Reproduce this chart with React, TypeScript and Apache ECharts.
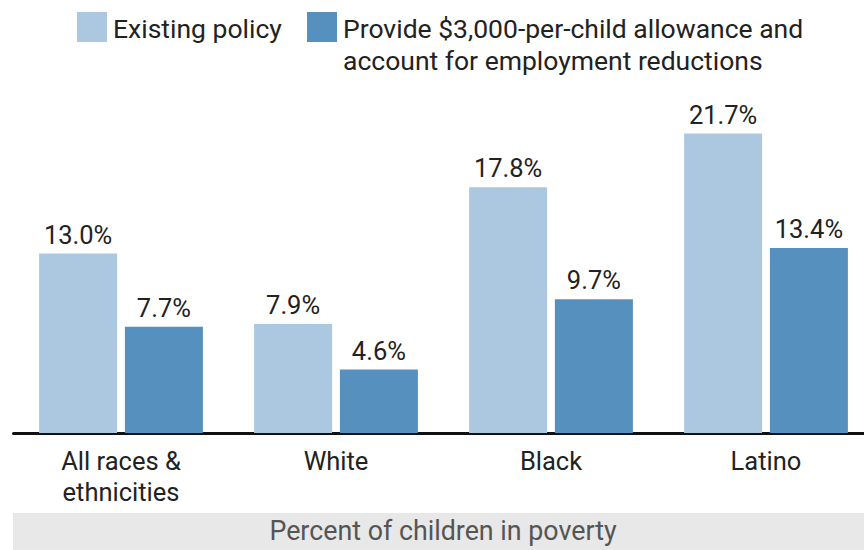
import React, { useEffect, useRef } from "react";
import * as echarts from "echarts";

const categories = ["All races &\nethnicities", "White", "Black", "Latino"];
const existingPolicy = [13.0, 7.9, 17.8, 21.7];
const allowancePolicy = [7.7, 4.6, 9.7, 13.4];
const seriesNames = ["Existing policy", "Provide $3,000-per-child allowance and\naccount for employment reductions"];
const axisTitle = "Percent of children in poverty";

const FONT = "Roboto, 'Noto Sans', sans-serif";
const LIGHT = "#abc8e0";
const DARK = "#5590bf";

export default function App() {
  const ref = useRef<HTMLDivElement>(null);
  useEffect(() => {
    const chart = echarts.init(ref.current!, null, { renderer: "svg" });
    const label = {
      show: true,
      position: "top",
      distance: 6,
      color: "#222",
      fontSize: 25.5,
      fontFamily: FONT,
      formatter: (p: any) => p.value.toFixed(1) + "%",
    };
    chart.setOption({
      animation: false,
      textStyle: { fontFamily: FONT },
      grid: { left: 13.5, width: 860, top: 88, height: 345, containLabel: false },
      xAxis: {
        type: "category",
        data: categories,
        axisLine: { show: true, lineStyle: { color: "#111", width: 3 } },
        axisTick: { show: false },
        axisLabel: { color: "#222", fontSize: 25.5, fontFamily: FONT, lineHeight: 31, margin: 12, interval: 0 },
      },
      yAxis: {
        type: "value",
        min: 0,
        max: 25,
        show: false,
        splitLine: { show: false },
      },
      series: [
        {
          type: "bar",
          name: seriesNames[0],
          data: existingPolicy,
          barWidth: 78,
          barGap: "10%",
          itemStyle: { color: LIGHT },
          label,
        },
        {
          type: "bar",
          name: seriesNames[1],
          data: allowancePolicy,
          barWidth: 78,
          barGap: "10%",
          itemStyle: { color: DARK },
          label,
        },
      ],
      graphic: [
        { type: "rect", shape: { x: 77, y: 12, width: 30, height: 30 }, style: { fill: LIGHT } },
        {
          type: "text",
          x: 113,
          y: 28,
          style: { text: seriesNames[0], fill: "#222", fontSize: 26.5, fontFamily: FONT, verticalAlign: "middle" },
        },
        { type: "rect", shape: { x: 307, y: 12, width: 30, height: 30 }, style: { fill: DARK } },
        {
          type: "text",
          x: 343,
          y: 12,
          style: { text: seriesNames[1], fill: "#222", fontSize: 26.5, lineHeight: 32, fontFamily: FONT, verticalAlign: "top" },
        },
        { type: "rect", shape: { x: 13, y: 513, width: 851, height: 37 }, style: { fill: "#e8e8e8" } },
        {
          type: "text",
          x: 443,
          y: 531,
          style: { text: axisTitle, fill: "#555", fontSize: 26.8, fontFamily: FONT, align: "center", verticalAlign: "middle" },
        },
      ],
    });
    return () => chart.dispose();
  }, []);
  return (
    <div style={{ width: 864, height: 550, position: "absolute", left: 0, top: 0, overflow: "hidden" }}>
      <div ref={ref} style={{ width: 880, height: 550 }} />
    </div>
  );
}
